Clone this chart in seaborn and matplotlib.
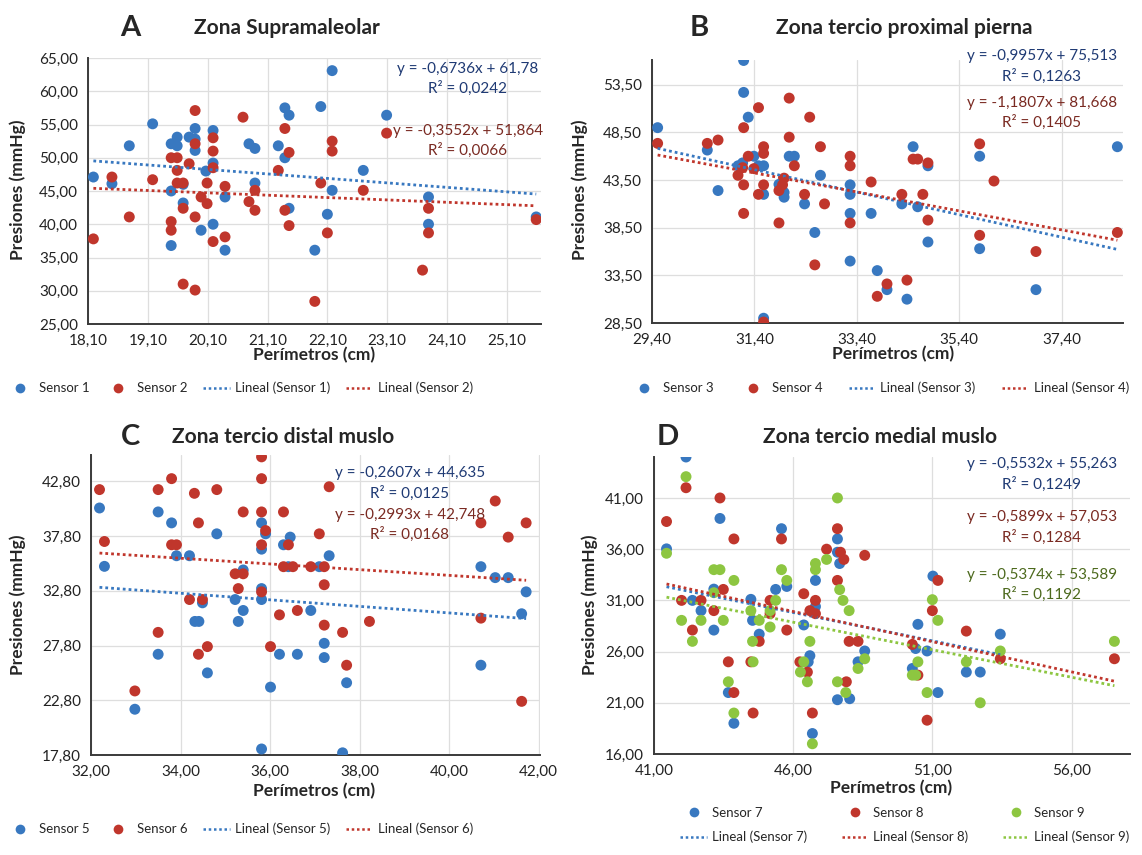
import numpy as np
import pandas as pd
import matplotlib
matplotlib.use('Agg')
import matplotlib.pyplot as plt
from matplotlib.ticker import FuncFormatter, MultipleLocator
from matplotlib.lines import Line2D
import seaborn as sns

sns.set_style('white')
plt.rcParams['font.family'] = ['Lato', 'DejaVu Sans']

# --- Zona Supramaleolar (A) ---
s1_x = [18.19, 18.50, 18.79, 19.18, 19.49, 19.59, 19.59, 19.49, 19.49, 19.69,
        19.69, 19.79, 19.89, 19.89, 19.89, 19.99, 20.07, 20.19, 20.19, 20.19,
        20.39, 20.39, 20.79, 20.89, 20.89, 21.28, 21.39, 21.39, 21.46, 21.46,
        21.99, 22.18, 22.18, 22.10, 21.89, 23.09, 22.70, 23.79, 23.79, 25.59]
s1_y = [47.1, 46.1, 51.8, 55.1, 52.1, 53.1, 51.8, 45.0, 36.8, 46.0,
        43.2, 53.1, 54.4, 52.8, 51.1, 39.1, 48.0, 54.1, 49.2, 40.0,
        44.1, 36.1, 52.1, 51.4, 46.2, 51.8, 57.5, 50.0, 56.4, 42.4,
        57.7, 63.1, 45.1, 41.5, 36.1, 56.4, 48.1, 44.1, 40.0, 41.1]
s2_x = [18.19, 18.50, 18.79, 19.18, 19.49, 19.59, 19.49, 19.49, 19.59, 19.59,
        19.69, 19.69, 19.69, 19.79, 19.89, 19.89, 19.89, 19.89, 19.99, 20.09,
        20.09, 20.19, 20.19, 20.19, 20.19, 20.39, 20.39, 20.69, 20.79, 20.89,
        20.89, 21.28, 21.39, 21.39, 21.46, 21.46, 21.99, 22.18, 22.18, 22.10,
        21.89, 23.09, 22.70, 23.79, 23.79, 23.69, 25.59]
s2_y = [37.8, 47.1, 41.1, 46.7, 50.0, 50.0, 40.4, 39.1, 48.1, 46.2,
        46.2, 42.4, 31.0, 49.1, 57.1, 52.1, 41.1, 30.1, 44.1, 46.2,
        43.1, 53.0, 51.0, 48.5, 37.4, 45.7, 38.1, 56.1, 43.4, 45.1,
        42.1, 48.1, 54.4, 42.1, 50.8, 39.8, 46.2, 52.5, 51.0, 38.7,
        28.4, 53.7, 45.1, 42.4, 38.7, 33.1, 40.7]

# --- Zona tercio proximal pierna (B) ---
s3_x = [29.51, 30.48, 30.69, 31.08, 31.17, 31.19, 31.19, 31.28, 31.39, 31.48,
        31.58, 31.58, 31.58, 31.88, 31.98, 31.98, 32.08, 32.18, 32.38, 32.58,
        32.69, 33.27, 33.27, 33.27, 33.27, 33.68, 33.80, 33.99, 34.28, 34.38,
        34.50, 34.59, 34.79, 34.79, 35.80, 35.80, 36.90, 38.49]
s3_y = [49.0, 46.65, 42.4, 45.0, 45.3, 56.05, 52.7, 50.1, 46.0, 45.0,
        45.0, 42.0, 29.0, 43.05, 42.2, 41.7, 46.0, 46.0, 41.0, 38.0,
        44.0, 43.0, 42.0, 40.0, 35.0, 40.0, 34.0, 32.0, 41.0, 31.0,
        47.0, 40.7, 45.0, 37.0, 46.0, 36.3, 32.0, 47.0]
s4_x = [29.51, 30.48, 30.69, 31.08, 31.19, 31.19, 31.19, 31.17, 31.28, 31.39,
        31.48, 31.48, 31.58, 31.58, 31.58, 31.58, 31.88, 31.88, 31.98, 31.95,
        32.08, 32.08, 32.18, 32.38, 32.48, 32.58, 32.69, 32.77, 33.27, 33.27,
        33.27, 33.68, 33.80, 33.99, 34.28, 34.38, 34.50, 34.59, 34.69, 34.79,
        34.79, 35.80, 35.80, 36.08, 36.90, 38.49]
s4_y = [47.35, 47.35, 47.7, 44.0, 49.0, 43.0, 40.0, 44.8, 46.0, 44.7,
        51.1, 42.0, 47.0, 46.3, 43.0, 28.6, 39.0, 42.4, 43.7, 43.0,
        52.1, 48.0, 45.0, 42.0, 50.1, 34.6, 47.0, 41.0, 46.0, 45.0,
        39.0, 43.3, 31.3, 32.6, 42.0, 33.0, 45.7, 45.7, 42.0, 45.3,
        39.3, 47.3, 37.7, 43.4, 36.0, 38.0]

# --- Zona tercio distal muslo (C) ---
s5_x = [32.19, 32.30, 32.98, 33.50, 33.50, 33.80, 33.91, 34.20, 34.32, 34.41,
        34.49, 34.60, 34.81, 35.22, 35.29, 35.40, 35.40, 35.81, 35.81, 35.81,
        35.81, 35.81, 35.90, 36.01, 36.21, 36.30, 36.45, 36.41, 36.61, 36.91,
        37.10, 37.32, 37.21, 37.21, 37.71, 37.62, 40.71, 41.03, 41.32, 41.72,
        41.62, 40.71]
s5_y = [40.36, 35.03, 21.98, 40.0, 27.0, 39.0, 36.0, 36.0, 30.0, 30.0,
        31.7, 25.3, 38.0, 32.0, 30.0, 31.0, 34.7, 39.0, 36.6, 33.0,
        32.0, 18.35, 38.0, 24.0, 27.0, 37.0, 37.7, 35.0, 27.0, 31.0,
        35.0, 36.0, 28.0, 26.7, 24.4, 18.0, 35.0, 34.0, 34.0, 32.7,
        30.7, 26.0]
s6_x = [32.19, 32.30, 32.98, 33.50, 33.50, 33.80, 33.80, 33.91, 34.20, 34.31,
        34.40, 34.40, 34.49, 34.60, 34.81, 35.22, 35.29, 35.40, 35.40, 35.81,
        35.81, 35.81, 35.81, 35.81, 35.90, 36.01, 36.21, 36.30, 36.30, 36.41,
        36.51, 36.91, 37.21, 37.10, 37.32, 37.21, 36.61, 37.21, 37.62, 37.71,
        38.22, 40.71, 41.03, 41.32, 41.72, 40.71, 41.62]
s6_y = [42.04, 37.3, 23.65, 42.04, 29.0, 43.04, 37.0, 37.0, 32.0, 41.7,
        39.0, 27.0, 32.0, 27.7, 42.04, 34.35, 33.0, 34.35, 40.0, 45.03,
        43.04, 40.0, 37.0, 32.7, 38.3, 27.7, 30.6, 40.0, 35.0, 37.0,
        35.0, 35.0, 35.0, 38.0, 42.3, 33.35, 31.0, 29.66, 29.0, 26.0,
        30.0, 39.0, 41.0, 37.7, 39.0, 30.3, 22.7]

# --- Zona tercio medial muslo (D) ---
s7_x = [41.45, 42.15, 42.38, 42.69, 43.15, 43.15, 43.37, 43.67, 43.87, 44.48,
        44.54, 44.78, 45.37, 45.58, 45.77, 46.38, 46.54, 46.60, 46.80, 46.80,
        46.69, 47.59, 47.59, 47.67, 47.59, 48.33, 48.03, 48.57, 50.48, 50.40,
        50.81, 50.28, 51.02, 51.20, 52.22, 52.72, 53.44]
s7_y = [36.03, 45.0, 31.0, 30.0, 28.1, 32.1, 39.0, 22.0, 19.0, 31.1,
        29.05, 27.7, 32.07, 38.0, 32.36, 28.6, 25.0, 25.6, 30.4, 32.95,
        18.0, 37.0, 35.7, 34.6, 21.3, 25.0, 21.4, 26.06, 28.66, 26.3,
        26.06, 24.35, 33.37, 22.0, 24.0, 24.0, 27.7]
s8_x = [41.45, 41.99, 42.15, 42.38, 42.69, 43.15, 43.37, 43.49, 43.67, 43.87,
        43.87, 44.48, 44.56, 44.78, 45.17, 45.17, 45.58, 45.77, 46.38, 46.24,
        46.51, 46.60, 46.80, 46.80, 46.69, 47.20, 47.59, 47.59, 47.70, 47.82,
        48.01, 47.91, 48.33, 48.57, 50.28, 50.48, 50.81, 51.00, 51.20, 52.22,
        53.44, 57.54]
s8_y = [38.7, 31.0, 42.0, 28.1, 31.0, 30.0, 41.0, 32.07, 25.0, 37.0,
        22.0, 25.0, 20.0, 27.0, 31.0, 29.7, 37.0, 28.1, 31.65, 25.0,
        24.0, 30.0, 29.7, 31.0, 20.0, 36.0, 38.0, 32.95, 35.7, 35.0,
        27.0, 23.05, 27.0, 35.4, 26.7, 23.7, 19.3, 30.0, 32.95, 28.0,
        25.3, 25.3]
s9_x = [41.45, 41.99, 42.15, 42.38, 42.69, 43.15, 43.37, 43.15, 43.49, 43.67,
        43.87, 43.87, 44.48, 44.54, 44.56, 44.78, 45.17, 45.17, 45.37, 45.58,
        45.77, 46.26, 46.38, 46.51, 46.60, 46.80, 46.80, 46.69, 47.20, 47.59,
        47.59, 47.67, 47.79, 47.89, 48.01, 48.33, 48.57, 50.28, 50.40, 50.48,
        50.81, 51.00, 51.20, 52.22, 52.72, 53.44, 57.54]
s9_y = [35.6, 29.05, 43.08, 27.0, 29.05, 34.0, 34.0, 31.75, 29.05, 23.05,
        32.95, 20.0, 30.0, 27.0, 25.0, 29.05, 30.0, 28.4, 31.0, 34.0,
        32.95, 24.0, 25.0, 23.05, 27.0, 34.0, 34.6, 17.0, 35.0, 41.0,
        23.05, 32.05, 31.0, 22.0, 30.0, 24.35, 25.3, 23.7, 23.7, 25.0,
        22.0, 31.07, 29.05, 25.0, 21.0, 26.06, 27.0]

# trend line coefficients (slope, intercept) as drawn for each series
trend_coef = {
    'Sensor 1': (-0.6736, 61.78), 'Sensor 2': (-0.3552, 51.864),
    'Sensor 3': (-1.1807, 81.668), 'Sensor 4': (-0.9957, 75.513),
    'Sensor 5': (-0.2993, 42.748), 'Sensor 6': (-0.2607, 44.635),
    'Sensor 7': (-0.5532, 55.263), 'Sensor 8': (-0.5899, 57.053),
    'Sensor 9': (-0.5374, 53.589),
}

# equation labels as printed on the chart
eq_A = [('y = -0,6736x + 61,78', 'R² = 0,0242'), ('y = -0,3552x + 51,864', 'R² = 0,0066')]
eq_B = [('y = -0,9957x + 75,513', 'R² = 0,1263'), ('y = -1,1807x + 81,668', 'R² = 0,1405')]
eq_C = [('y = -0,2607x + 44,635', 'R² = 0,0125'), ('y = -0,2993x + 42,748', 'R² = 0,0168')]
eq_D = [('y = -0,5532x + 55,263', 'R² = 0,1249'), ('y = -0,5899x + 57,053', 'R² = 0,1284'),
        ('y = -0,5374x + 53,589', 'R² = 0,1192')]

BLUE, RED, GREEN = '#3878c0', '#c0362c', '#8dc641'
EQ_BLUE, EQ_RED, EQ_GREEN = '#1f3a74', '#7a2a22', '#4d6a1e'

W, H = 1142, 855
fig = plt.figure(figsize=(W / 100, H / 100), dpi=100)


def px(x, y):
    return x / W, 1 - y / H


def comma(v, pos):
    return f'{v:.2f}'.replace('.', ',')


def panel(rect, series, xlim, ylim, xstart, xstep, ystart, ystep):
    ax = fig.add_axes(rect)
    df = pd.concat([pd.DataFrame({'x': xs, 'y': ys, 'sensor': name})
                    for name, xs, ys, col in series], ignore_index=True)
    pal = {name: col for name, xs, ys, col in series}
    sns.scatterplot(data=df, x='x', y='y', hue='sensor', palette=pal, s=62,
                    edgecolor='none', linewidth=0, legend=False, ax=ax, zorder=3)
    for name, xs, ys, col in series:
        m, b = trend_coef[name]
        xx = np.array([min(xs), max(xs)])
        ax.plot(xx, m * xx + b, color=col, lw=2.0, ls=(0, (1, 1.1)), zorder=4)
    ax.set_xlim(*xlim)
    ax.set_ylim(*ylim)
    ax.xaxis.set_major_locator(MultipleLocator(xstep, offset=xstart % xstep))
    ax.yaxis.set_major_locator(MultipleLocator(ystep, offset=ystart % ystep))
    ax.xaxis.set_major_formatter(FuncFormatter(comma))
    ax.yaxis.set_major_formatter(FuncFormatter(comma))
    ax.set_xlabel('')
    ax.set_ylabel('')
    ax.grid(True, color='#dedede', lw=0.9)
    ax.set_axisbelow(True)
    for sp in ['top', 'right']:
        ax.spines[sp].set_visible(False)
    for sp in ['left', 'bottom']:
        ax.spines[sp].set_color('#3a3a3a')
        ax.spines[sp].set_linewidth(1.4)
    ax.tick_params(length=0, labelsize=11, colors='#222222', pad=7)
    return ax


def rect(l, t, r, b):
    return [l / W, 1 - b / H, (r - l) / W, (b - t) / H]


def legend(handles, labels, cx, cy, ncol, colsp, rowsp=0.5):
    fig.legend(handles, labels, loc='center', bbox_to_anchor=px(cx, cy), ncol=ncol,
               frameon=False, fontsize=9.5, handlelength=2.0, handletextpad=0.4,
               columnspacing=colsp, labelspacing=rowsp)


def dot(c):
    return Line2D([], [], marker='o', ls='', color=c, markersize=7, markeredgewidth=0)


def dash(c):
    return Line2D([], [], color=c, lw=1.8, ls=(0, (1, 1.1)))


def headings(letter, lx, title, tx, y):
    fig.text(*px(lx, y), letter, fontsize=21, fontweight='bold', ha='center', va='center')
    fig.text(*px(tx, y), title, fontsize=15, fontweight='bold', ha='center', va='center')


def axis_labels(xl, yl):
    fig.text(*px(*xl), 'Perímetros (cm)', fontsize=12.5, fontweight='bold', ha='center', va='center')
    fig.text(*px(*yl), 'Presiones (mmHg)', fontsize=12.5, fontweight='bold', ha='center',
             va='center', rotation=90)


def equations(eqs, colors, x, ys):
    for (e, r), c, (y1, y2) in zip(eqs, colors, ys):
        fig.text(*px(x, y1), e, fontsize=11, color=c, ha='center', va='center')
        fig.text(*px(x, y2), r, fontsize=11, color=c, ha='center', va='center')


# A
panel(rect(88, 58, 541, 324),
      [('Sensor 1', s1_x, s1_y, BLUE), ('Sensor 2', s2_x, s2_y, RED)],
      (18.1, 25.67), (25, 65), 18.1, 1, 25, 5)
headings('A', 130, 'Zona Supramaleolar', 287, 28)
axis_labels((314, 355), (18, 190))
equations(eq_A, [EQ_BLUE, EQ_RED], 468, [(69, 88), (131, 150)])
legend([dot(BLUE), dot(RED), dash(BLUE), dash(RED)],
       ['Sensor 1', 'Sensor 2', 'Lineal (Sensor 1)', 'Lineal (Sensor 2)'], 240, 388, 4, 1.2)

# B
panel(rect(652, 60, 1123, 323),
      [('Sensor 3', s3_x, s3_y, BLUE), ('Sensor 4', s4_x, s4_y, RED)],
      (29.4, 38.6), (28.5, 56.1), 29.4, 2, 28.5, 5)
headings('B', 699, 'Zona tercio proximal pierna', 904, 28)
axis_labels((893, 354), (580, 190))
equations(eq_B, [EQ_BLUE, EQ_RED], 1042, [(56, 76), (103, 122)])
legend([dot(BLUE), dot(RED), dash(BLUE), dash(RED)],
       ['Sensor 3', 'Sensor 4', 'Lineal (Sensor 3)', 'Lineal (Sensor 4)'], 880, 388, 4, 2.0)

# C
panel(rect(91, 455, 540, 755),
      [('Sensor 5', s5_x, s5_y, BLUE), ('Sensor 6', s6_x, s6_y, RED)],
      (32.0, 42.03), (17.8, 45.2), 32.0, 2, 17.8, 5)
headings('C', 130, 'Zona tercio distal muslo', 283, 437)
axis_labels((314, 791), (18, 605))
equations(eq_C, [EQ_BLUE, EQ_RED], 410, [(473, 493), (515, 534)])
legend([dot(BLUE), dot(RED), dash(BLUE), dash(RED)],
       ['Sensor 5', 'Sensor 6', 'Lineal (Sensor 5)', 'Lineal (Sensor 6)'], 240, 829, 4, 1.2)

# D
panel(rect(654, 457, 1130, 754),
      [('Sensor 7', s7_x, s7_y, BLUE), ('Sensor 8', s8_x, s8_y, RED), ('Sensor 9', s9_x, s9_y, GREEN)],
      (41.0, 58.1), (16, 45), 41.0, 5, 16, 5)
headings('D', 668, 'Zona tercio medial muslo', 880, 437)
axis_labels((891, 788), (590, 605))
equations(eq_D, [EQ_BLUE, EQ_RED, EQ_GREEN], 1042, [(464, 484), (517, 537), (575, 594)])
legend([dot(BLUE), dash(BLUE), dot(RED), dash(RED), dot(GREEN), dash(GREEN)],
       ['Sensor 7', 'Lineal (Sensor 7)', 'Sensor 8', 'Lineal (Sensor 8)',
        'Sensor 9', 'Lineal (Sensor 9)'], 905, 825, 3, 2.6, 0.9)

fig.savefig('out.png', dpi=100)
